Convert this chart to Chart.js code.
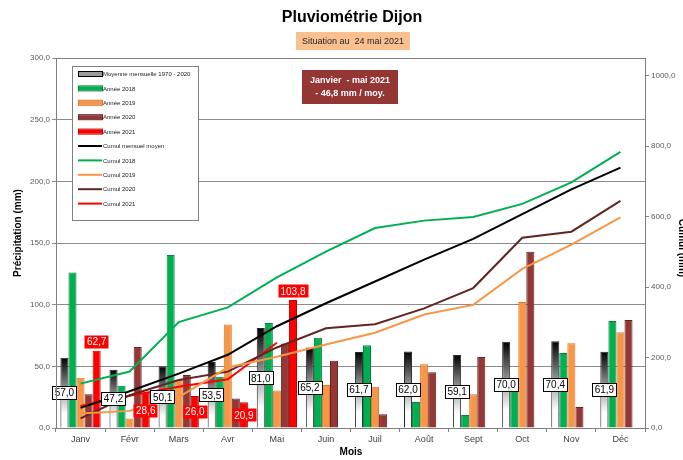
<!DOCTYPE html>
<html>
<head>
<meta charset="utf-8">
<script src="https://cdn.jsdelivr.net/npm/chart.js@4.4.1/dist/chart.umd.min.js"></script>
<style>
body { margin: 0; background: #fff; }
canvas { display: block; }
</style>
</head>
<body>
<canvas id="pluvioChart" width="683" height="460"></canvas>
<script>
var mois = ['Janv', 'Févr', 'Mars', 'Avr', 'Mai', 'Juin', 'Juil', 'Août', 'Sept', 'Oct', 'Nov', 'Déc'];

// precipitations mensuelles (mm)
var moyenne = [57.0, 47.2, 50.1, 53.5, 81.0, 65.2, 61.7, 62.0, 59.1, 70.0, 70.4, 61.9];
var annee2018 = [126.0, 34.3, 140.3, 41.6, 85.1, 73.2, 67.0, 21.0, 10.5, 37.0, 60.8, 86.8];
var annee2019 = [40.8, 7.8, 39.0, 84.0, 30.5, 34.9, 33.5, 51.6, 27.3, 102.2, 68.7, 77.6];
var annee2020 = [27.3, 65.7, 43.0, 24.0, 68.6, 54.6, 11.1, 45.2, 57.6, 143.0, 17.0, 87.6];
var annee2021 = [62.7, 28.6, 26.0, 20.9, 103.8];

// cumuls (mm)
var cumulMoyen = [57.0, 104.2, 154.3, 207.8, 288.8, 354.0, 415.7, 477.7, 536.8, 606.8, 677.2, 739.1];
var cumul2018 = [126.0, 160.3, 300.6, 342.2, 427.3, 500.5, 567.5, 588.5, 599.0, 636.0, 696.8, 783.6];
var cumul2019 = [40.8, 48.6, 87.6, 171.6, 202.1, 237.0, 270.5, 322.1, 349.4, 451.6, 520.3, 597.9];
var cumul2020 = [27.3, 93.0, 136.0, 160.0, 228.6, 283.2, 294.3, 339.5, 397.1, 540.1, 557.1, 644.7];
var cumul2021 = [62.7, 91.3, 117.3, 138.2, 242.0];

var FONT = '"Liberation Sans", Arial, sans-serif';

function fmt(v) {
    return v.toFixed(1).replace('.', ',');
}

// degrade noir -> blanc pour les barres de la moyenne
function moyenneFill(c) {
    var chart = c.chart;
    var area = chart.chartArea;
    if (!area || c.raw === undefined) return '#808080';
    var top = chart.scales.y.getPixelForValue(c.raw);
    var g = chart.ctx.createLinearGradient(0, top, 0, area.bottom);
    g.addColorStop(0, '#000000');
    g.addColorStop(0.45, '#9a9a9a');
    g.addColorStop(0.8, '#ffffff');
    g.addColorStop(1, '#ffffff');
    return g;
}

function labelBox(ctx, x, y, text, fill, stroke, color) {
    ctx.font = '10px ' + FONT;
    var w = ctx.measureText(text).width + 5;
    var h = 13;
    ctx.fillStyle = fill;
    ctx.fillRect(Math.round(x - w / 2) + 0.5, Math.round(y - h / 2) + 0.5, Math.round(w), h);
    if (stroke) {
        ctx.strokeStyle = stroke;
        ctx.lineWidth = 1;
        ctx.strokeRect(Math.round(x - w / 2) + 0.5, Math.round(y - h / 2) + 0.5, Math.round(w), h);
    }
    ctx.fillStyle = color;
    ctx.textAlign = 'center';
    ctx.textBaseline = 'middle';
    ctx.fillText(text, x, y + 1);
}

var decorations = {
    id: 'decorations',
    afterDatasetsDraw: function (chart) {
        var ctx = chart.ctx;
        ctx.save();
        // etiquettes moyenne
        chart.getDatasetMeta(0).data.forEach(function (bar, i) {
            labelBox(ctx, bar.x, (bar.y + bar.base) / 2, fmt(moyenne[i]), '#ffffff', '#000000', '#000000');
        });
        // etiquettes 2021
        chart.getDatasetMeta(4).data.forEach(function (bar, i) {
            var v = annee2021[i];
            var y = v > 50 ? bar.y - 9 : (bar.y + bar.base) / 2;
            labelBox(ctx, bar.x, y, fmt(v), '#ff0000', null, '#ffffff');
        });
        ctx.restore();
    },
    afterDraw: function (chart) {
        var ctx = chart.ctx;
        var a = chart.chartArea;
        ctx.save();

        // cadre de la zone de tracé
        ctx.strokeStyle = '#7f7f7f';
        ctx.lineWidth = 1;
        ctx.strokeRect(a.left + 0.5, a.top + 0.5, a.right - a.left, a.bottom - a.top);

        // titre
        ctx.fillStyle = '#000000';
        ctx.textAlign = 'center';
        ctx.textBaseline = 'middle';
        ctx.font = 'bold 16px ' + FONT;
        ctx.fillText('Pluviométrie Dijon', 352, 18);

        // sous-titre
        ctx.fillStyle = '#fac090';
        ctx.fillRect(296, 32, 114, 18);
        ctx.fillStyle = '#262626';
        ctx.font = '9px ' + FONT;
        ctx.fillText('Situation au  24 mai 2021', 353, 41.5);

        // encadré
        ctx.fillStyle = '#943634';
        ctx.fillRect(302, 70, 96, 34);
        ctx.fillStyle = '#ffffff';
        ctx.font = 'bold 9px ' + FONT;
        ctx.fillText('Janvier  - mai 2021', 350, 81);
        ctx.fillText('- 46,8 mm / moy.', 350, 94);

        // titres des axes
        ctx.fillStyle = '#000000';
        ctx.font = 'bold 10px ' + FONT;
        ctx.fillText('Mois', 351, 452);
        ctx.save();
        ctx.translate(18, 233);
        ctx.rotate(-Math.PI / 2);
        ctx.fillText('Précipitation (mm)', 0, 0);
        ctx.restore();
        ctx.save();
        ctx.translate(682, 248);
        ctx.rotate(Math.PI / 2);
        ctx.fillText('Cumul (mm)', 0, 0);
        ctx.restore();

        // legende
        var lx = 72, ly = 66, lw = 126, lh = 154;
        ctx.fillStyle = '#ffffff';
        ctx.fillRect(lx + 0.5, ly + 0.5, lw, lh);
        ctx.strokeStyle = '#7f7f7f';
        ctx.strokeRect(lx + 0.5, ly + 0.5, lw, lh);
        ctx.font = '6px ' + FONT;
        ctx.textAlign = 'left';
        chart.data.datasets.forEach(function (ds, i) {
            var y = ly + 8 + i * 14.4;
            if (ds.type === 'bar') {
                ctx.fillStyle = i === 0 ? '#9a9a9a' : ds.backgroundColor;
                ctx.fillRect(lx + 6, y - 2, 24, 4);
                ctx.strokeStyle = i === 0 ? '#000000' : ds.borderColor;
                ctx.lineWidth = 1;
                ctx.strokeRect(lx + 6.5, y - 2.5, 24, 5);
            } else {
                ctx.strokeStyle = ds.borderColor;
                ctx.lineWidth = 2;
                ctx.beginPath();
                ctx.moveTo(lx + 6, y);
                ctx.lineTo(lx + 30, y);
                ctx.stroke();
            }
            ctx.fillStyle = '#1a1a1a';
            ctx.fillText(ds.label, lx + 31, y + 0.5);
        });
        ctx.restore();
    }
};

var ctx = document.getElementById('pluvioChart').getContext('2d');
var pluvioChart = new Chart(ctx, {
    data: {
        labels: mois,
        datasets: [
            { type: 'bar', label: 'Moyenne mensuelle 1970 - 2020', data: moyenne, backgroundColor: moyenneFill, borderColor: '#262626', borderWidth: 1, order: 2 },
            { type: 'bar', label: 'Année 2018', data: annee2018, backgroundColor: '#00b050', borderColor: '#00843c', borderWidth: 1, order: 2 },
            { type: 'bar', label: 'Année 2019', data: annee2019, backgroundColor: '#f79646', borderColor: '#d9782c', borderWidth: 1, order: 2 },
            { type: 'bar', label: 'Année 2020', data: annee2020, backgroundColor: '#953735', borderColor: '#632523', borderWidth: 1, order: 2 },
            { type: 'bar', label: 'Année 2021', data: annee2021, backgroundColor: '#ff0000', borderColor: '#c00000', borderWidth: 1, order: 2 },
            { type: 'line', label: 'Cumul mensuel moyen', data: cumulMoyen, yAxisID: 'y1', borderColor: '#000000', borderWidth: 2, pointRadius: 0, order: 1 },
            { type: 'line', label: 'Cumul 2018', data: cumul2018, yAxisID: 'y1', borderColor: '#00b050', borderWidth: 2, pointRadius: 0, order: 1 },
            { type: 'line', label: 'Cumul 2019', data: cumul2019, yAxisID: 'y1', borderColor: '#f79646', borderWidth: 2, pointRadius: 0, order: 1 },
            { type: 'line', label: 'Cumul 2020', data: cumul2020, yAxisID: 'y1', borderColor: '#632523', borderWidth: 2, pointRadius: 0, order: 1 },
            { type: 'line', label: 'Cumul 2021', data: cumul2021, yAxisID: 'y1', borderColor: '#ff0000', borderWidth: 2, pointRadius: 0, order: 1 }
        ]
    },
    options: {
        responsive: false,
        animation: false,
        layout: { padding: { top: 58, left: 0, right: 0, bottom: 0 } },
        datasets: {
            bar: { categoryPercentage: 0.82, barPercentage: 1.0 }
        },
        plugins: {
            legend: { display: false },
            title: { display: false },
            tooltip: { enabled: false }
        },
        scales: {
            x: {
                offset: true,
                afterFit: function (s) { s.height = 32; },
                grid: { offset: true, drawOnChartArea: false, drawTicks: true, tickLength: 4, color: '#7f7f7f' },
                border: { color: '#7f7f7f' },
                ticks: { color: '#404040', font: { family: FONT, size: 9 }, padding: 2, maxRotation: 0 }
            },
            y: {
                position: 'left',
                min: 0,
                max: 300,
                afterFit: function (s) { s.width = 56; },
                grid: { color: '#8c8c8c', tickLength: 4 },
                border: { color: '#7f7f7f' },
                ticks: { stepSize: 50, color: '#595959', font: { family: FONT, size: 8 }, padding: 2,
                    callback: function (v) { return fmt(v); } }
            },
            y1: {
                position: 'right',
                min: 0,
                max: 1050,
                afterFit: function (s) { s.width = 38; },
                grid: { drawOnChartArea: false, tickLength: 4, color: '#7f7f7f' },
                border: { color: '#7f7f7f' },
                ticks: { stepSize: 200, color: '#595959', font: { family: FONT, size: 8 }, padding: 2,
                    callback: function (v) { return v > 1000 ? null : fmt(v); } }
            }
        }
    },
    plugins: [decorations]
});
</script>
</body>
</html>
